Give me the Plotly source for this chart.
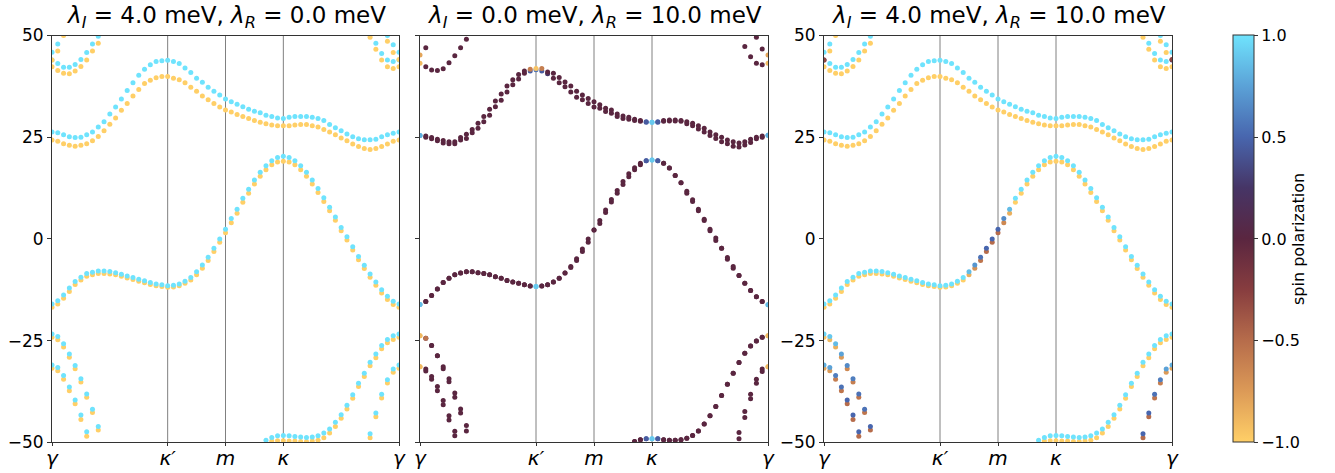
import plotly.graph_objects as go

# ---------------------------------------------------------------------------
# k-path sampling: 61 points, gamma=0, kappa'=20, m=30, kappa=40, gamma=60
# ---------------------------------------------------------------------------
K = list(range(61))
K_TICKS = [0, 20, 30, 40, 60]
K_LABELS = ["γ", "κ′", "m", "κ", "γ"]
K_LINES = [20, 30, 40]
E_TICKS = [-50, -25, 0, 25, 50]
E_LABELS = ["−50", "−25", "0", "25", "50"]
CB_TICKS = [-1.0, -0.5, 0.0, 0.5, 1.0]
CB_LABELS = ["−1.0", "−0.5", "0.0", "0.5", "1.0"]
TITLES = [
    "<i>λ<sub>I</sub></i> = 4.0 meV, <i>λ<sub>R</sub></i> = 0.0 meV",
    "<i>λ<sub>I</sub></i> = 0.0 meV, <i>λ<sub>R</sub></i> = 10.0 meV",
    "<i>λ<sub>I</sub></i> = 4.0 meV, <i>λ<sub>R</sub></i> = 10.0 meV",
]
N = None


def path(left, right):
    """Band visible near the two gamma ends only; gap in between."""
    return left + [N] * (len(K) - len(left) - len(right)) + right


# ---------------------------------------------------------------------------
# Energies (meV), lambda_I = 4, lambda_R = 0  (spin up / spin down pairs)
# ---------------------------------------------------------------------------
p1_a_up = [26.3, 26.1, 25.6, 25.1, 24.9, 25.0, 25.6, 26.3, 27.5, 28.8,
           30.7, 32.4, 34.4, 36.5, 38.4, 40.2, 41.7, 42.8, 43.6, 43.8,
           43.9, 43.6, 43.1, 42.0, 40.9, 39.5, 38.5, 37.3, 36.3, 35.4,
           34.4, 33.7, 33.1, 32.5, 31.9, 31.4, 31.0, 30.4, 30.1, 29.7,
           29.6, 29.9, 30.1, 30.1, 30.1, 29.9, 29.6, 29.1, 28.1, 27.3,
           26.6, 25.8, 25.1, 24.6, 24.4, 24.4, 24.5, 25.1, 25.6, 26.0,
           26.3]
p1_a_dn = [24.3, 24.0, 23.4, 23.0, 22.8, 23.0, 23.4, 24.1, 25.2, 26.6,
           28.2, 29.7, 31.6, 33.3, 35.1, 36.7, 38.2, 39.0, 39.6, 39.9,
           39.9, 39.5, 39.1, 38.4, 37.3, 36.3, 35.1, 34.2, 33.3, 32.4,
           31.7, 31.2, 30.6, 30.1, 29.6, 29.1, 28.7, 28.3, 28.0, 27.8,
           27.8, 27.8, 28.0, 28.1, 28.1, 27.8, 27.5, 26.9, 26.3, 25.6,
           24.8, 24.1, 23.3, 22.7, 22.2, 22.0, 22.2, 22.7, 23.3, 24.0,
           24.3]
p1_c_up = [-16.0, -15.2, -13.8, -12.1, -10.5, -9.4, -8.5, -8.2, -7.9, -7.9,
           -8.0, -8.3, -8.7, -9.1, -9.5, -9.9, -10.3, -10.7, -11.1, -11.3,
           -11.5, -11.4, -11.1, -10.4, -9.5, -8.1, -6.4, -4.5, -2.3, 0.0,
           2.4, 5.0, 7.3, 10.0, 12.2, 14.5, 16.4, 18.0, 19.2, 20.0,
           20.3, 20.0, 19.2, 18.0, 16.4, 14.5, 12.4, 10.1, 7.8, 5.4,
           2.8, 0.5, -1.9, -4.3, -6.5, -8.6, -10.6, -12.5, -14.1, -15.3,
           -16.0]
p1_c_dn = [-16.8, -16.0, -14.6, -12.9, -11.2, -10.1, -9.2, -8.8, -8.5, -8.5,
           -8.6, -8.8, -9.2, -9.6, -10.0, -10.4, -10.8, -11.2, -11.5, -11.7,
           -11.9, -11.8, -11.5, -10.9, -10.1, -8.8, -7.2, -5.3, -3.1, -0.8,
           1.5, 4.0, 6.3, 9.0, 11.2, 13.5, 15.4, 17.0, 18.2, 18.9,
           19.1, 18.9, 18.2, 17.0, 15.4, 13.5, 11.4, 9.2, 6.9, 4.6,
           2.0, -0.3, -2.7, -5.1, -7.3, -9.4, -11.4, -13.3, -14.9, -16.1,
           -16.8]
p1_d1_up = path(
    [-23.4, -24.0, -25.8, -28.3, -31.1, -34.4, -38.1, -41.9, -46.1],
    [-49.5, -48.8, -48.4, -48.3, -48.4, -48.6, -48.7, -48.8, -48.7, -48.4,
     -47.7, -46.7, -45.1, -43.2, -40.9, -38.3, -35.5, -33.0, -30.3, -28.3,
     -26.2, -24.7, -23.8, -23.4])
p1_d1_dn = path(
    [-24.2, -24.8, -26.6, -29.1, -31.9, -35.2, -38.9, -42.7, -47.0],
    [-50.3, -49.7, -49.6, -49.6, -49.7, -49.7, -49.8, -49.8, -49.7, -49.5,
     -48.9, -47.7, -46.1, -44.1, -41.8, -39.2, -36.3, -33.8, -31.2, -29.2,
     -27.0, -25.5, -24.7, -24.2])
p1_d2_up = path([-31.0, -31.6, -33.6, -36.4, -39.6, -43.3, -47.4],
                [-47.9, -42.8, -38.2, -34.6, -32.0, -31.0])
p1_d2_dn = path([-31.8, -32.4, -34.5, -37.3, -40.5, -44.4, -48.5],
                [-48.9, -43.7, -39.1, -35.4, -32.8, -31.8])
p1_y_up = path([44.0, 43.1, 42.2, 42.2, 42.9, 44.1, 45.8, 47.9, 49.8],
               [48.1, 45.6, 44.0, 43.6, 44.0])
p1_y_dn = path([42.3, 41.4, 40.7, 40.6, 41.3, 42.4, 44.0, 46.2, 48.1],
               [49.6, 46.6, 44.0, 42.3, 41.9, 42.3])
p1_x_up = path([45.9, 47.9], [50.0, 47.7, 45.9])
p1_x_dn = path([44.0, 46.2, 50.0], [48.6, 45.8, 44.1])

# ---------------------------------------------------------------------------
# Energies (meV), lambda_I = 0, lambda_R = 10  (Rashba-split pairs a / b)
# ---------------------------------------------------------------------------
p2_a_a = [25.4, 25.3, 24.9, 24.5, 24.2, 23.9, 23.9, 24.9, 25.7, 26.9,
          28.4, 30.1, 31.9, 33.9, 35.6, 37.6, 39.1, 40.4, 41.3, 41.7,
          41.9, 41.9, 41.0, 40.7, 39.7, 38.6, 37.6, 36.3, 35.4, 34.5,
          33.7, 33.0, 32.1, 31.7, 30.7, 30.2, 29.9, 29.4, 29.1, 28.8,
          28.7, 28.8, 29.1, 29.2, 29.2, 29.1, 28.8, 28.4, 27.8, 27.2,
          26.3, 25.6, 25.0, 24.3, 23.9, 23.6, 23.9, 24.5, 25.0, 25.3,
          25.5]
p2_a_b = [25.4, 25.0, 24.6, 24.1, 23.6, 23.4, 23.4, 24.3, 24.7, 26.1,
          27.2, 28.8, 30.4, 32.5, 34.1, 36.1, 37.9, 39.3, 40.7, 41.3,
          41.6, 41.3, 40.6, 39.5, 38.4, 37.4, 36.1, 34.8, 34.2, 33.3,
          32.4, 32.1, 31.3, 30.9, 30.1, 29.6, 29.4, 29.1, 28.9, 28.7,
          28.7, 28.7, 28.9, 29.0, 29.0, 28.9, 28.3, 27.8, 27.0, 26.3,
          25.4, 24.7, 23.9, 23.4, 22.8, 22.6, 23.1, 23.7, 24.6, 25.0,
          25.5]
p2_c_a = [-16.1, -15.4, -13.9, -12.3, -10.7, -9.7, -8.8, -8.4, -8.1, -8.1,
          -8.3, -8.5, -8.8, -9.3, -9.7, -10.2, -10.6, -10.9, -11.3, -11.6,
          -11.7, -11.6, -11.3, -10.6, -9.7, -8.4, -6.8, -4.9, -2.5, 0.0,
          2.2, 4.5, 7.1, 9.7, 11.9, 14.1, 16.0, 17.5, 18.6, 19.2,
          19.4, 19.2, 18.6, 17.4, 15.6, 13.8, 11.7, 9.6, 7.3, 4.8,
          2.4, 0.2, -2.3, -4.6, -6.8, -9.0, -10.9, -12.7, -14.2, -15.4,
          -16.2]
p2_c_b = [-16.1, -15.4, -13.9, -12.3, -10.7, -9.7, -8.8, -8.4, -8.1, -8.1,
          -8.3, -8.5, -8.8, -9.3, -9.7, -10.2, -10.6, -10.9, -11.3, -11.6,
          -11.7, -11.6, -11.3, -10.6, -9.7, -8.4, -7.0, -5.3, -3.1, -0.8,
          2.2, 3.8, 6.5, 9.1, 11.2, 13.4, 15.3, 17.0, 18.2, 19.2,
          19.4, 19.2, 18.6, 17.4, 15.6, 13.8, 11.2, 9.2, 6.9, 4.5,
          2.0, -0.4, -2.3, -5.0, -7.2, -9.0, -10.9, -12.7, -14.2, -15.4,
          -16.2]
p2_d1_a = path(
    [-23.8, -24.4, -26.2, -28.7, -31.4, -34.4, -37.9, -41.8, -45.9],
    [-49.8, -49.4, -49.1, -49.1, -49.1, -49.4, -49.5, -49.5, -49.4, -49.0,
     -48.3, -47.2, -45.5, -43.5, -41.2, -38.5, -35.7, -33.0, -30.4, -28.1,
     -26.3, -25.1, -24.2, -23.8])
p2_d1_b = path(
    [-23.8, -24.4, -26.2, -28.7, -31.9, -35.1, -38.9, -42.8, -47.2],
    [-49.8, -49.4, -49.1, -49.1, -49.1, -49.4, -49.5, -49.5, -49.4, -49.0,
     -48.3, -47.2, -45.5, -43.5, -41.2, -38.5, -35.7, -33.0, -30.4, -28.1,
     -26.3, -25.1, -24.2, -23.8])
p2_d2_a = path([-31.4, -32.0, -33.8, -36.3, -39.7, -43.5, -47.3],
               [-47.6, -42.4, -38.2, -34.5, -32.0, -31.4])
p2_d2_b = path([-31.4, -32.5, -34.5, -37.3, -40.8, -44.5, -48.4],
               [-49.1, -43.9, -39.3, -35.5, -32.6, -31.4])
p2_y = path([43.2, 42.3, 41.5, 41.4, 41.8, 43.3, 45.0, 47.0, 49.1],
            [47.3, 44.8, 43.2, 42.8, 43.2])
p2_x = path([45.2, 47.0], [49.6, 46.7, 45.2])

# ---------------------------------------------------------------------------
# Spin polarization: departures from the band's nominal value, by k index
# ---------------------------------------------------------------------------
p2_spin_a_a = {0: 0.8, 19: -0.6, 20: -0.95, 21: -0.6, 39: 0.45, 40: 0.9,
               41: 0.45, 60: 0.8}
p2_spin_a_b = {0: 0.8, 19: 0.45, 20: 0.55, 21: 0.45, 22: 0.25, 39: 0.45,
               40: 0.9, 41: 0.45, 60: 0.8}
p2_spin_c = {0: 0.85, 20: 0.9, 39: 0.45, 40: 0.9, 41: 0.45, 60: 0.85}
p2_spin_d1_a = {0: -0.9, 1: -0.55, 39: 0.45, 40: 0.9, 41: 0.45, 60: -0.9}
p2_spin_d1_b = {0: -0.9, 39: 0.45, 40: 0.9, 41: 0.45, 60: -0.9}
p2_spin_d2 = {0: -0.9, 60: -0.9}
p2_spin_y = {0: -0.9, 60: -0.9}
p2_spin_x = {0: -0.8, 60: -0.8}

p3_spin_c = {25: 0.85, 26: 0.7, 27: 0.55, 28: 0.5, 29: 0.5, 30: 0.5,
             31: 0.65, 32: 0.85}
p3_spin_d1 = {0: 0.95, 1: 0.9, 2: 0.85, 3: 0.75, 4: 0.65, 5: 0.6, 6: 0.55,
              7: 0.55, 8: 0.5}
p3_spin_d2 = {0: 0.8, 1: 0.75, 2: 0.6, 3: 0.55, 4: 0.5, 5: 0.5, 6: 0.5,
              55: 0.5, 56: 0.5, 57: 0.55, 58: 0.6, 59: 0.75, 60: 0.8}
p3_spin_y_up = {0: 0.3, 60: 0.3}
p3_spin_x_dn = {0: -0.3, 60: -0.3}

# managua-like diverging map (orange -> dark -> light blue)
COLORSCALE = [
    [0.000, "#ffcf67"], [0.125, "#dc9a57"], [0.250, "#b66c4b"],
    [0.375, "#873d3f"], [0.500, "#5a2640"], [0.625, "#463566"],
    [0.750, "#4866ae"], [0.875, "#5ba2d7"], [1.000, "#6fe3fd"],
]


def spins(exceptions, default):
    return [exceptions.get(i, default) for i in K]


def neg(exceptions):
    return {k: -v for k, v in exceptions.items()}


# (energies, spin) per panel, drawn bottom band first, lower member first
panel_1 = [
    (p1_d2_dn, spins({}, -1.0)), (p1_d2_up, spins({}, 1.0)),
    (p1_d1_dn, spins({}, -1.0)), (p1_d1_up, spins({}, 1.0)),
    (p1_c_dn, spins({}, -1.0)), (p1_c_up, spins({}, 1.0)),
    (p1_a_dn, spins({}, -1.0)), (p1_a_up, spins({}, 1.0)),
    (p1_y_dn, spins({}, -1.0)), (p1_y_up, spins({}, 1.0)),
    (p1_x_dn, spins({}, -1.0)), (p1_x_up, spins({}, 1.0)),
]
panel_2 = [
    (p2_d2_b, spins(p2_spin_d2, 0.0)), (p2_d2_a, spins(p2_spin_d2, 0.0)),
    (p2_d1_b, spins(p2_spin_d1_b, 0.0)), (p2_d1_a, spins(p2_spin_d1_a, 0.0)),
    (p2_c_b, spins(p2_spin_c, 0.0)), (p2_c_a, spins(p2_spin_c, 0.0)),
    (p2_a_b, spins(p2_spin_a_b, 0.0)), (p2_a_a, spins(p2_spin_a_a, 0.0)),
    (p2_y, spins(p2_spin_y, 0.0)), (p2_x, spins(p2_spin_x, 0.0)),
]
panel_3 = [
    (p1_d2_dn, spins(neg(p3_spin_d2), -1.0)), (p1_d2_up, spins(p3_spin_d2, 1.0)),
    (p1_d1_dn, spins(neg(p3_spin_d1), -1.0)), (p1_d1_up, spins(p3_spin_d1, 1.0)),
    (p1_c_dn, spins(neg(p3_spin_c), -1.0)), (p1_c_up, spins(p3_spin_c, 1.0)),
    (p1_a_dn, spins({}, -1.0)), (p1_a_up, spins({}, 1.0)),
    (p1_y_dn, spins({}, -1.0)), (p1_y_up, spins(p3_spin_y_up, 1.0)),
    (p1_x_dn, spins(p3_spin_x_dn, -1.0)), (p1_x_up, spins({}, 1.0)),
]

W, H = 1335, 473
X_DOMAINS = [(52, 399), (420, 768), (824, 1172)]
Y_TOP, Y_BOT = 35.5, 442.3
y_domain = [1 - Y_BOT / H, 1 - Y_TOP / H]
FONT = "DejaVu Sans, sans-serif"

fig = go.Figure()
for p, bands in enumerate([panel_1, panel_2, panel_3], start=1):
    xa = "x" if p == 1 else f"x{p}"
    ya = "y" if p == 1 else f"y{p}"
    for energies, spin in bands:
        fig.add_trace(go.Scatter(
            x=K, y=energies, mode="markers", xaxis=xa, yaxis=ya,
            marker=dict(size=5, color=spin, coloraxis="coloraxis",
                        line=dict(width=0)),
            showlegend=False, hoverinfo="skip",
        ))
    for k in K_LINES:
        fig.add_shape(type="line", xref=xa, yref=f"{ya} domain",
                      x0=k, x1=k, y0=0, y1=1,
                      line=dict(color="#808080", width=1), layer="below")
    x0, x1 = X_DOMAINS[p - 1]
    fig.add_annotation(
        text=TITLES[p - 1], xref="paper", yref="paper",
        x=(x0 + x1) / 2 / W, y=1 - 17 / H, xanchor="center", yanchor="middle",
        showarrow=False, font=dict(family=FONT, size=23, color="black"),
    )

axis_common = dict(showgrid=False, zeroline=False, showline=True, mirror=True,
                   linecolor="#333333", linewidth=1, ticks="outside",
                   tickcolor="#333333", tickwidth=1, automargin=False)
layout = dict(
    template="none",
    width=W, height=H, margin=dict(l=0, r=0, t=0, b=0, pad=0),
    paper_bgcolor="white", plot_bgcolor="white",
    font=dict(family=FONT, color="black"),
    coloraxis=dict(
        colorscale=COLORSCALE, cmin=-1, cmax=1,
        colorbar=dict(
            x=1233 / W, xanchor="left", xpad=0, ypad=0,
            y=1 - (Y_TOP + Y_BOT) / 2 / H, yanchor="middle",
            len=Y_BOT - Y_TOP, lenmode="pixels", thickness=21,
            outlinewidth=1, outlinecolor="#333333",
            tickvals=CB_TICKS, ticktext=CB_LABELS, ticks="outside",
            ticklen=4, tickcolor="#333333",
            tickfont=dict(family=FONT, size=16, color="black"),
            title=dict(text="spin polarization", side="right",
                       font=dict(family=FONT, size=16, color="black")),
        ),
    ),
)
for p in range(1, 4):
    x0, x1 = X_DOMAINS[p - 1]
    sx = "" if p == 1 else str(p)
    layout[f"xaxis{sx}"] = dict(
        domain=[x0 / W, x1 / W], range=[0, 60], anchor="y" + sx,
        tickvals=K_TICKS, ticktext=[f"<i>{t}</i>" for t in K_LABELS],
        tickfont=dict(family=FONT, size=20), ticklen=3,
        ticklabelstandoff=-5, **axis_common)
    layout[f"yaxis{sx}"] = dict(
        domain=y_domain, range=[-50, 50], anchor="x" + sx,
        tickvals=E_TICKS, ticktext=E_LABELS, showticklabels=(p != 2),
        tickfont=dict(family=FONT, size=17), ticklen=4, **axis_common)
fig.update_layout(**layout)

fig.write_html("out.html")
